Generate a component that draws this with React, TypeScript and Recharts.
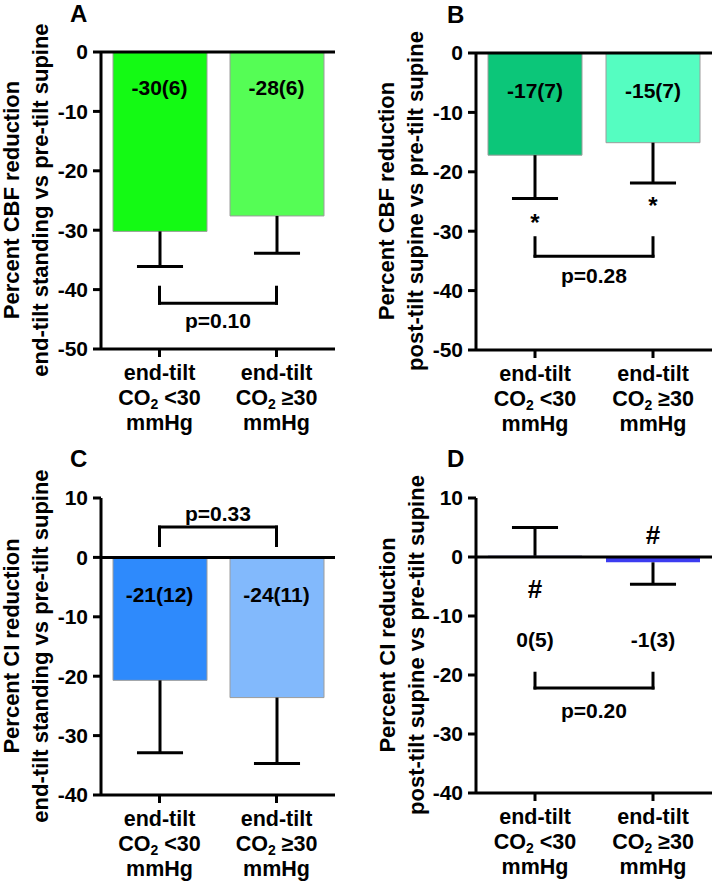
import { BarChart, Bar, XAxis, YAxis, Cell, ReferenceLine, ReferenceDot } from 'recharts'

const CATEGORIES = ['<30', '≥30']

const CBF_STANDING_MEAN = [-30.2, -27.6]
const CBF_STANDING_SD = [5.9, 6.3]
const CBF_STANDING_TEXT = ['-30(6)', '-28(6)']

const CBF_SUPINE_MEAN = [-17.2, -15.1]
const CBF_SUPINE_SD = [7.3, 6.8]
const CBF_SUPINE_TEXT = ['-17(7)', '-15(7)']
const CBF_SUPINE_MARK_Y = [-28.6, -25.6]

const CI_STANDING_MEAN = [-20.7, -23.6]
const CI_STANDING_SD = [12.2, 11.1]
const CI_STANDING_TEXT = ['-21(12)', '-24(11)']

const CI_SUPINE_MEAN = [0.2, -0.9]
const CI_SUPINE_SD = [4.8, 3.7]
const CI_SUPINE_TEXT = ['0(5)', '-1(3)']
const CI_SUPINE_MARK_Y = [-5.3, 3.7]

const CBF_TICKS = [0, -10, -20, -30, -40, -50]
const CI_TICKS = [10, 0, -10, -20, -30, -40]

const FONT = '"Liberation Sans", Arial, sans-serif'
const AXIS = { stroke: '#000', strokeWidth: 3 }

type Row = { cat: string; mean: number; end: number; text: string; markY?: number }

function rows(mean: number[], sd: number[], text: string[], markY?: number[]): Row[] {
  return CATEGORIES.map((cat, i) => ({
    cat,
    mean: mean[i],
    end: mean[i] >= 0 ? mean[i] + sd[i] : mean[i] - sd[i],
    text: text[i],
    markY: markY ? markY[i] : undefined,
  }))
}

// three-line category label, subscript 2 in CO2
function CatTick({ x, y, payload }: any) {
  const common = { textAnchor: 'middle' as const, fontSize: 21.5, fontWeight: 700, fill: '#000', fontFamily: FONT }
  return (
    <g>
      <text x={x} y={y + 21} {...common}>end-tilt</text>
      <text x={x} y={y + 46} {...common}>
        CO<tspan fontSize={14} dy={4}>2</tspan>
        <tspan dy={-4}>{' ' + payload.value}</tspan>
      </text>
      <text x={x} y={y + 71} {...common}>mmHg</text>
    </g>
  )
}

function Whisker(props: any) {
  const { x, y, width, height, payload } = props
  if (x == null || y == null) return null
  const top = Math.min(y, y + height)
  const bottom = Math.max(y, y + height)
  const cx = x + width / 2
  const capY = payload.mean >= 0 ? top : bottom
  const half = width * 0.245
  return (
    <g>
      <line x1={cx} x2={cx} y1={top} y2={bottom} stroke="#000" strokeWidth={3} />
      <line x1={cx - half} x2={cx + half} y1={capY} y2={capY} stroke="#000" strokeWidth={3} />
    </g>
  )
}

type PanelProps = {
  data: Row[]
  colors: string[]
  barStroke: string
  domain: [number, number]
  ticks: number[]
  textY: number
  mark?: string
  markSize?: number
  legTop: number
  bracketY: number
  pText: string
  pSide: 'top' | 'bottom'
  pOffset: number
  left: number
  top: number
  height: number
  axisWidth: number
  rightGap: number
  plotTop: number
  xAxisHeight: number
}

function Panel(p: PanelProps) {
  const [c0, c1] = CATEGORIES
  return (
    <div style={{ position: 'absolute', left: p.left, top: p.top }}>
      <BarChart
        width={356}
        height={p.height}
        data={p.data}
        margin={{ top: p.plotTop, right: p.rightGap, bottom: 0, left: 0 }}
      >
        <XAxis
          dataKey="cat"
          height={p.xAxisHeight}
          interval={0}
          tickSize={8}
          tickMargin={2}
          axisLine={AXIS}
          tickLine={AXIS}
          tick={(t: any) => <CatTick {...t} />}
        />
        <XAxis xAxisId="w" dataKey="cat" hide />
        <YAxis
          width={p.axisWidth}
          domain={p.domain}
          ticks={p.ticks}
          interval={0}
          tickSize={8}
          tickMargin={5}
          axisLine={AXIS}
          tickLine={AXIS}
          tick={{ fill: '#000', fontSize: 21, fontWeight: 700, fontFamily: FONT }}
        />
        <Bar dataKey="mean" barSize={94} isAnimationActive={false} stroke={p.barStroke} strokeWidth={1}>
          {p.data.map((d, i) => (
            <Cell key={d.cat} fill={p.colors[i]} />
          ))}
        </Bar>
        <Bar
          xAxisId="w"
          dataKey={(d: Row) => [d.mean, d.end]}
          barSize={94}
          isAnimationActive={false}
          shape={Whisker}
        />
        <ReferenceLine y={0} stroke="#000" strokeWidth={3} />
        {p.data.map((d) => (
          <ReferenceDot
            key={'t' + d.cat}
            x={d.cat}
            y={p.textY}
            r={0}
            fill="none"
            stroke="none"
            label={{ value: d.text, position: 'center', fill: '#000', fontSize: 21, fontWeight: 700, fontFamily: FONT }}
          />
        ))}
        {p.mark &&
          p.data.map((d) => (
            <ReferenceDot
              key={'m' + d.cat}
              x={d.cat}
              y={d.markY}
              r={0}
              fill="none"
              stroke="none"
              label={{ value: p.mark, position: 'center', fill: '#000', fontSize: p.markSize, fontWeight: 700, fontFamily: FONT }}
            />
          ))}
        <ReferenceLine
          segment={[{ x: c0, y: p.legTop }, { x: c0, y: p.bracketY }]}
          stroke="#000"
          strokeWidth={3}
          strokeLinecap="square"
        />
        <ReferenceLine
          segment={[{ x: c1, y: p.legTop }, { x: c1, y: p.bracketY }]}
          stroke="#000"
          strokeWidth={3}
          strokeLinecap="square"
        />
        <ReferenceLine
          segment={[{ x: c0, y: p.bracketY }, { x: c1, y: p.bracketY }]}
          stroke="#000"
          strokeWidth={3}
          strokeLinecap="square"
          label={{ value: p.pText, position: p.pSide, offset: p.pOffset, fill: '#000', fontSize: 21, fontWeight: 700, fontFamily: FONT }}
        />
      </BarChart>
    </div>
  )
}

function YTitle({ x1, x2, cy, lines }: { x1: number; x2: number; cy: number; lines: [string, string] }) {
  return (
    <g fontSize={22} fontWeight={700} fill="#000" fontFamily={FONT} style={{ whiteSpace: 'pre' }}>
      <text x={x1} y={cy} textAnchor="middle" transform={`rotate(-90, ${x1}, ${cy})`}>{lines[0]}</text>
      <text x={x2} y={cy} textAnchor="middle" transform={`rotate(-90, ${x2}, ${cy})`}>{lines[1]}</text>
    </g>
  )
}

export default function App() {
  return (
    <div style={{ position: 'absolute', left: 0, top: 0, width: 712, height: 881, background: '#fff', fontFamily: FONT, overflow: 'hidden' }}>
      <Panel
        data={rows(CBF_STANDING_MEAN, CBF_STANDING_SD, CBF_STANDING_TEXT)}
        colors={['#14fa14', '#55fd55']}
        barStroke="#9c9c9c"
        domain={[-50, 0]}
        ticks={CBF_TICKS}
        textY={-6}
        legTop={-39.6}
        bracketY={-42.3}
        pText="p=0.10"
        pSide="bottom"
        pOffset={10}
        left={0}
        top={0}
        height={440}
        axisWidth={101}
        rightGap={21}
        plotTop={52}
        xAxisHeight={91}
      />
      <Panel
        data={rows(CBF_SUPINE_MEAN, CBF_SUPINE_SD, CBF_SUPINE_TEXT, CBF_SUPINE_MARK_Y)}
        colors={['#0cc679', '#55fdc1']}
        barStroke="#9c9c9c"
        domain={[-50, 0]}
        ticks={CBF_TICKS}
        textY={-6.3}
        mark="*"
        markSize={24}
        legTop={-31.1}
        bracketY={-34.2}
        pText="p=0.28"
        pSide="bottom"
        pOffset={12}
        left={356}
        top={0}
        height={440}
        axisWidth={120}
        rightGap={0}
        plotTop={53}
        xAxisHeight={90}
      />
      <Panel
        data={rows(CI_STANDING_MEAN, CI_STANDING_SD, CI_STANDING_TEXT)}
        colors={['#2e8afc', '#82b9fc']}
        barStroke="#9c9c9c"
        domain={[-40, 10]}
        ticks={CI_TICKS}
        textY={-6.2}
        legTop={2.0}
        bracketY={5.1}
        pText="p=0.33"
        pSide="top"
        pOffset={6}
        left={0}
        top={440}
        height={441}
        axisWidth={101}
        rightGap={21}
        plotTop={58}
        xAxisHeight={86}
      />
      <Panel
        data={rows(CI_SUPINE_MEAN, CI_SUPINE_SD, CI_SUPINE_TEXT, CI_SUPINE_MARK_Y)}
        colors={['#22228a', '#3c3cf0']}
        barStroke="none"
        domain={[-40, 10]}
        ticks={CI_TICKS}
        textY={-14}
        mark="#"
        markSize={26}
        legTop={-19.7}
        bracketY={-22.2}
        pText="p=0.20"
        pSide="bottom"
        pOffset={15}
        left={356}
        top={440}
        height={441}
        axisWidth={120}
        rightGap={0}
        plotTop={58}
        xAxisHeight={88}
      />
      <svg width={712} height={881} style={{ position: 'absolute', left: 0, top: 0, pointerEvents: 'none' }}>
        <g fontSize={24} fontWeight={700} fill="#000" fontFamily={FONT}>
          <text x={70} y={22}>A</text>
          <text x={447} y={23}>B</text>
          <text x={70} y={467}>C</text>
          <text x={447} y={467}>D</text>
        </g>
        <YTitle x1={19} x2={48} cy={200} lines={['Percent  CBF reduction', 'end-tilt standing vs pre-tilt supine']} />
        <YTitle x1={394} x2={423} cy={201} lines={['Percent CBF reduction', 'post-tilt supine vs pre-tilt supine']} />
        <YTitle x1={19} x2={48} cy={646} lines={['Percent  CI reduction', 'end-tilt standing vs pre-tilt supine']} />
        <YTitle x1={395} x2={424} cy={645} lines={['Percent CI reduction', 'post-tilt supine vs pre-tilt supine']} />
      </svg>
    </div>
  )
}
